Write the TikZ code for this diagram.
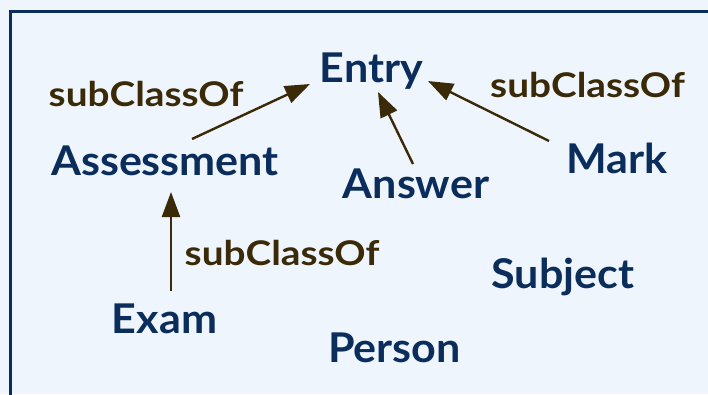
\documentclass[tikz,border=0pt]{standalone}
\usepackage{fontspec}
\setmainfont{Lato}
\newfontfamily\clsfont{Lato}[FakeStretch=1.05]
\newfontfamily\relfont{Lato}[FakeStretch=1.14]
\usetikzlibrary{arrows.meta}
\definecolor{bgblue}{HTML}{EFF5FD}
\definecolor{navy}{HTML}{0A2D5C}
\definecolor{relbrown}{HTML}{3A2A08}
\tikzset{
  cls/.style={font=\clsfont\bfseries\fontsize{41}{41}\selectfont, text=navy, inner sep=0pt, anchor=base},
  rel/.style={font=\relfont\bfseries\fontsize{34}{34}\selectfont, text=relbrown, inner sep=0pt, anchor=base},
  subarrow/.style={draw=relbrown, line width=2.4pt, -{Triangle[length=25pt,width=18pt]}},
}
\begin{document}
\begin{tikzpicture}[x=1pt,y=-1pt]
  % canvas and frame
  \useasboundingbox (0,0) rectangle (708,394);
  \fill[bgblue] (0,0) rectangle (708,394);
  \begin{scope}
    \clip (0,0) rectangle (708,394);
    \draw[navy, line width=3pt] (10.5,11.5) rectangle (730,420);
  \end{scope}

  % classes
  \node[cls] (entry)  at (371.5,82)  {Entry};
  \node[cls] (assess) at (165,175)   {Assessment};
  \node[cls] (answer) at (416,198)   {Answer};
  \node[cls] (mark)   at (617,173)   {Mark};
  \node[cls] (exam)   at (164.5,333) {Exam};
  \node[cls] (person) at (394.5,362) {Person};
  \node[cls] (subject) at (563,288)  {Subject};

  % relation labels
  \node[rel] (lblA) at (146,106)   {subClassOf};
  \node[rel] (lblM) at (587.5,97)  {subClassOf};
  \node[rel] (lblE) at (282,265)   {subClassOf};

  % subclass links
  \draw[subarrow] ([shift={(27,-36)}]assess.base) -- ([shift={(-61.5,2)}]entry.base);
  \draw[subarrow] ([shift={(-3,-34)}]answer.base) -- ([shift={(6.5,10)}]entry.base);
  \draw[subarrow] ([shift={(-68,-32)}]mark.base) -- ([shift={(56.5,-1)}]entry.base);
  \draw[subarrow] ([shift={(6.5,-42)}]exam.base) -- ([shift={(6,17)}]assess.base);
\end{tikzpicture}
\end{document}
